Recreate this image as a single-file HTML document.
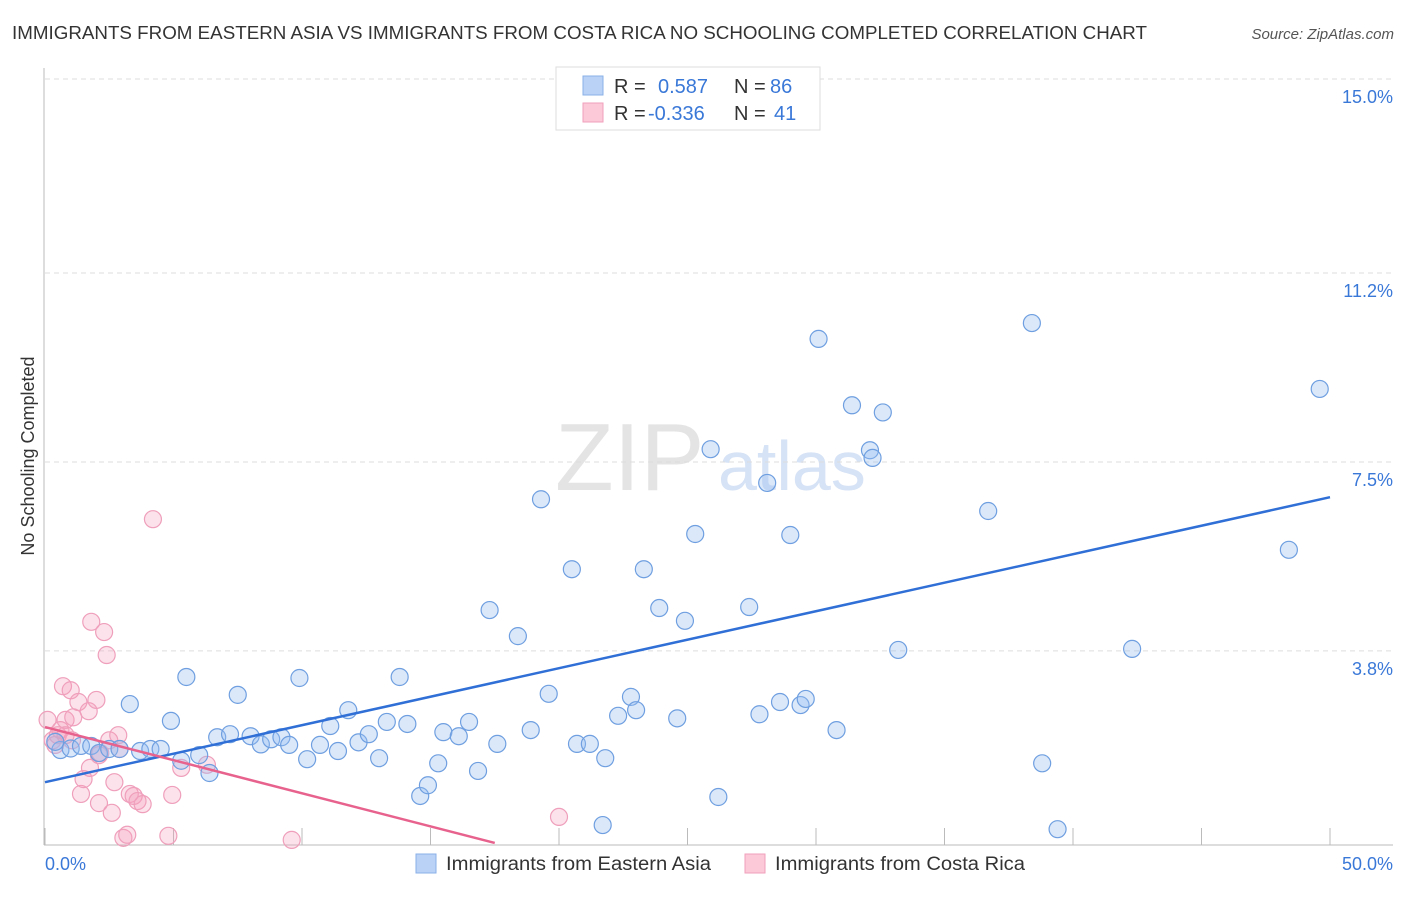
<!DOCTYPE html>
<html><head><meta charset="utf-8"><style>
body{margin:0;background:#fff;font-family:"Liberation Sans",sans-serif;}
svg text{font-family:"Liberation Sans",sans-serif;}
</style></head><body>
<svg id="chart" width="1406" height="892" xmlns="http://www.w3.org/2000/svg">
<text x="12" y="39" font-size="18" fill="#333" textLength="1135" lengthAdjust="spacingAndGlyphs">IMMIGRANTS FROM EASTERN ASIA VS IMMIGRANTS FROM COSTA RICA NO SCHOOLING COMPLETED CORRELATION CHART</text>
<text x="1394" y="39" font-size="15" fill="#555" font-style="italic" text-anchor="end">Source: ZipAtlas.com</text>
<text x="34" y="456" font-size="18" fill="#333" text-anchor="middle" transform="rotate(-90 34 456)">No Schooling Completed</text>
<text x="555" y="490" font-size="96" fill="#e4e4e4" font-family="Liberation Serif">ZIP</text>
<text x="718" y="490" font-size="70" fill="#d6e2f5">atlas</text>
<g id="grid"></g><g id="axes"></g><g id="pts"></g><g id="trends"></g>
<g>
<rect x="556" y="67" width="264" height="63" fill="#fff" stroke="#ddd"/>
<rect x="583" y="76" width="20" height="19" fill="#b9d2f5" stroke="#8ab0e8"/>
<rect x="583" y="103" width="20" height="19" fill="#fbc9d8" stroke="#f0a0bb"/>
<text x="614" y="93" font-size="20" fill="#333">R = </text><text x="658" y="93" font-size="20" fill="#3a78d8">0.587</text>
<text x="734" y="93" font-size="20" fill="#333">N = </text><text x="770" y="93" font-size="20" fill="#3a78d8">86</text>
<text x="614" y="120" font-size="20" fill="#333">R = </text><text x="648" y="120" font-size="20" fill="#3a78d8">-0.336</text>
<text x="734" y="120" font-size="20" fill="#333">N = </text><text x="774" y="120" font-size="20" fill="#3a78d8">41</text>
</g>
<g>
<rect x="416" y="854" width="20" height="19" fill="#b9d2f5" stroke="#8ab0e8"/>
<text x="446" y="870" font-size="19" fill="#333" textLength="265" lengthAdjust="spacingAndGlyphs">Immigrants from Eastern Asia</text>
<rect x="745" y="854" width="20" height="19" fill="#fbc9d8" stroke="#f0a0bb"/>
<text x="775" y="870" font-size="19" fill="#333" textLength="250" lengthAdjust="spacingAndGlyphs">Immigrants from Costa Rica</text>
</g>
</svg>
<script>
const xTicks=[0,5,10,15,20,25,30,35,40,45,50];
const yTicks=[3.8,7.5,11.2,15.0];
const yTickLabels=["3.8%","7.5%","11.2%","15.0%"];
const blueX=[0.6,1.0,1.4,1.8,2.1,2.5,2.9,3.3,3.7,4.1,4.5,4.9,5.3,5.5,6.0,6.4,6.7,7.2,7.5,8.0,8.4,8.8,9.2,9.5,9.9,10.2,10.7,11.1,11.4,11.8,12.2,12.6,13.0,13.3,13.8,14.1,14.6,14.9,15.3,15.5,16.1,16.5,16.85,17.3,17.6,18.4,18.9,19.3,19.6,20.5,20.7,21.2,21.8,22.3,22.8,23.0,23.3,23.9,24.6,24.9,25.3,25.9,26.2,27.4,27.8,28.1,28.6,29.0,29.4,29.6,30.1,30.8,31.4,32.1,32.2,32.6,33.2,36.7,38.4,38.8,39.4,42.3,48.4,49.6,21.7,0.4];
const blueY=[1.86,1.89,1.94,1.94,1.8,1.88,1.88,2.76,1.84,1.88,1.88,2.43,1.65,3.29,1.76,1.41,2.11,2.17,2.94,2.13,1.97,2.07,2.11,1.96,3.27,1.68,1.96,2.33,1.84,2.64,2.01,2.17,1.7,2.41,3.29,2.37,0.96,1.17,1.6,2.21,2.13,2.41,1.45,4.6,1.98,4.09,2.25,6.77,2.96,5.4,1.98,1.98,1.7,2.53,2.9,2.64,5.4,4.64,2.48,4.39,6.09,7.75,0.94,4.66,2.56,7.09,2.8,6.07,2.74,2.86,9.91,2.25,8.61,7.73,7.58,8.47,3.82,6.54,10.22,1.6,0.31,3.84,5.78,8.93,0.39,2.02];
const pinkX=[0.1,0.3,0.4,0.6,0.7,0.8,1.0,1.05,1.1,1.3,1.4,1.5,1.7,1.75,1.8,2.0,2.1,2.3,2.4,2.5,2.7,2.85,2.9,3.05,3.2,3.3,3.45,3.6,3.8,4.2,4.8,4.95,5.3,6.3,9.6,20.0,2.1,2.6,2.15,0.5,0.8];
const pinkY=[2.45,2.05,1.96,2.25,3.11,2.45,3.03,2.05,2.5,2.8,1.0,1.29,2.62,1.51,4.37,2.84,1.76,4.17,3.72,2.05,1.23,2.15,1.88,0.14,0.2,1.0,0.96,0.86,0.8,6.38,0.18,0.98,1.51,1.57,0.1,0.55,0.82,0.63,1.8,2.15,2.15];
const blueTrend=[1.23,6.81];
const pinkTrend=[[0,2.31],[17.5,0.04]];
const X0=45,X1=1330,Y0=845,YS=51.07;
const sx=v=>X0+(X1-X0)*v/50, sy=v=>Y0-v*YS;
const NS="http://www.w3.org/2000/svg";
function mk(t,a,p){const e=document.createElementNS(NS,t);for(const k in a)e.setAttribute(k,a[k]);p.appendChild(e);return e;}
const grid=document.getElementById('grid'),axes=document.getElementById('axes'),pts=document.getElementById('pts'),tr=document.getElementById('trends');
yTicks.forEach((v,i)=>{
 const l=mk('line',{x1:45,x2:1393,y1:sy(v),y2:sy(v),stroke:'#ddd','stroke-dasharray':'5,4'},grid);
 
 
 const t=mk('text',{x:1393,y:sy(v)+24,'font-size':18,fill:'#3a78d8','text-anchor':'end'},grid);
 t.textContent=yTickLabels[i];
 
 
});
mk('line',{x1:44,x2:44,y1:68,y2:845,stroke:'#bbb'},axes);
mk('line',{x1:44,x2:1393,y1:845,y2:845,stroke:'#bbb'},axes);
xTicks.forEach(v=>{
 const l=mk('line',{x1:sx(v),x2:sx(v),y1:828,y2:845,stroke:'#bbb'},axes);
 
 
});
const xl=mk('text',{x:45,y:870,'font-size':18,fill:'#3a78d8'},axes);xl.textContent='0.0%';


const xr=mk('text',{x:1393,y:870,'font-size':18,fill:'#3a78d8','text-anchor':'end'},axes);xr.textContent='50.0%';


pinkX.forEach((x,i)=>{
 const c=mk('circle',{cx:sx(x),cy:sy(pinkY[i]),r:8.5,fill:'rgba(245,160,190,0.3)',stroke:'#ef9fbb','stroke-width':1.2},pts);
 
 
});
blueX.forEach((x,i)=>{
 const c=mk('circle',{cx:sx(x),cy:sy(blueY[i]),r:8.5,fill:'rgba(150,190,240,0.35)',stroke:'#6f9fe0','stroke-width':1.2},pts);
 
 
});
const bl=mk('line',{x1:sx(0),y1:sy(blueTrend[0]),x2:sx(50),y2:sy(blueTrend[1]),stroke:'#2f6fd6','stroke-width':2.5},tr);


const pl=mk('line',{x1:sx(pinkTrend[0][0]),y1:sy(pinkTrend[0][1]),x2:sx(pinkTrend[1][0]),y2:sy(pinkTrend[1][1]),stroke:'#e8628e','stroke-width':2.5},tr);


</script>
</body></html>
